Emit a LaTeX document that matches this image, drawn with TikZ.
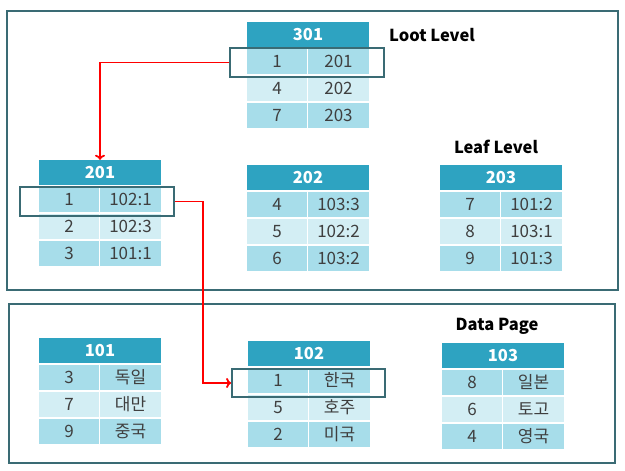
\documentclass[tikz,border=0pt]{standalone}
\usepackage{fontspec}
\setmainfont{Noto Sans CJK KR}
\usetikzlibrary{arrows.meta}

\definecolor{hdrblue}{HTML}{2EA3C1}
\definecolor{rowdark}{HTML}{A7DDEA}
\definecolor{rowlight}{HTML}{D3EEF4}
\definecolor{framegray}{HTML}{3A6B74}
\definecolor{txtgray}{HTML}{3F3F3F}
\colorlet{row1}{rowdark}
\colorlet{row2}{rowlight}
\colorlet{row3}{rowdark}

% one page: header cell, then three key/pointer rows
\newcommand{\pagetbl}[5]{%
  \node[hdr] (#1) at (#2+61,#3+12.5) {#4};
  \foreach \k/\v [count=\i] in {#5} {
    \node[cell, fill=row\i, minimum width=60] (#1-k\i) at (#2+30,#3+12.5+27*\i) {\k};
    \node[cell, fill=row\i, minimum width=61] (#1-v\i) at (#2+91.5,#3+12.5+27*\i) {\v};
  }
}

\begin{document}
\begin{tikzpicture}[x=1pt, y=-1pt,
    hdr/.style={fill=hdrblue, text=white, font=\bfseries\fontsize{16.5}{19}\selectfont,
      minimum width=122, minimum height=25, inner sep=0pt},
    cell/.style={text=txtgray, font=\fontsize{17}{20}\selectfont,
      minimum height=25, inner sep=0pt},
    lbl/.style={font=\bfseries\fontsize{16.5}{19}\selectfont, inner sep=0pt},
    frame/.style={draw=framegray, line width=1.8pt},
    selbox/.style={draw=framegray, line width=1.8pt, minimum width=154, minimum height=29, inner sep=0pt},
    link/.style={draw=red, line width=1.8pt, -{To[length=5pt,width=10pt]}}]

    \useasboundingbox (0,0) rectangle (625,471);

    % level frames
    \draw[frame] (7,11) rectangle (618,290);
    \draw[frame] (9,304) rectangle (615,463);

    % index pages
    \pagetbl{t301}{247}{22}{301}{1/201,4/202,7/203}
    \pagetbl{t201}{39}{160}{201}{1/102:1,2/102:3,3/101:1}
    \pagetbl{t202}{247}{165}{202}{4/103:3,5/102:2,6/103:2}
    \pagetbl{t203}{440}{165}{203}{7/101:2,8/103:1,9/101:3}

    % data pages
    \pagetbl{t101}{39}{338}{101}{3/독일,7/대만,9/중국}
    \pagetbl{t102}{248}{341}{102}{1/한국,5/호주,2/미국}
    \pagetbl{t103}{442}{343}{103}{8/일본,6/토고,4/영국}

    \node[lbl] (loot) at (432,35) {Loot Level};
    \node[lbl] (leaf) at (496,147) {Leaf Level};
    \node[lbl] (data) at (497,326) {Data Page};

    \node[selbox] (sel301) at (307,62.5) {};
    \node[selbox] (sel201) at (97,201.5) {};
    \node[selbox, minimum width=153, minimum height=28] (sel102) at (308.5,383) {};

    \draw[link] (sel301.west) -| (t201.north);
    \draw[link] (sel201.east) -- ++(28,0) |- (sel102.west);

\end{tikzpicture}
\end{document}
